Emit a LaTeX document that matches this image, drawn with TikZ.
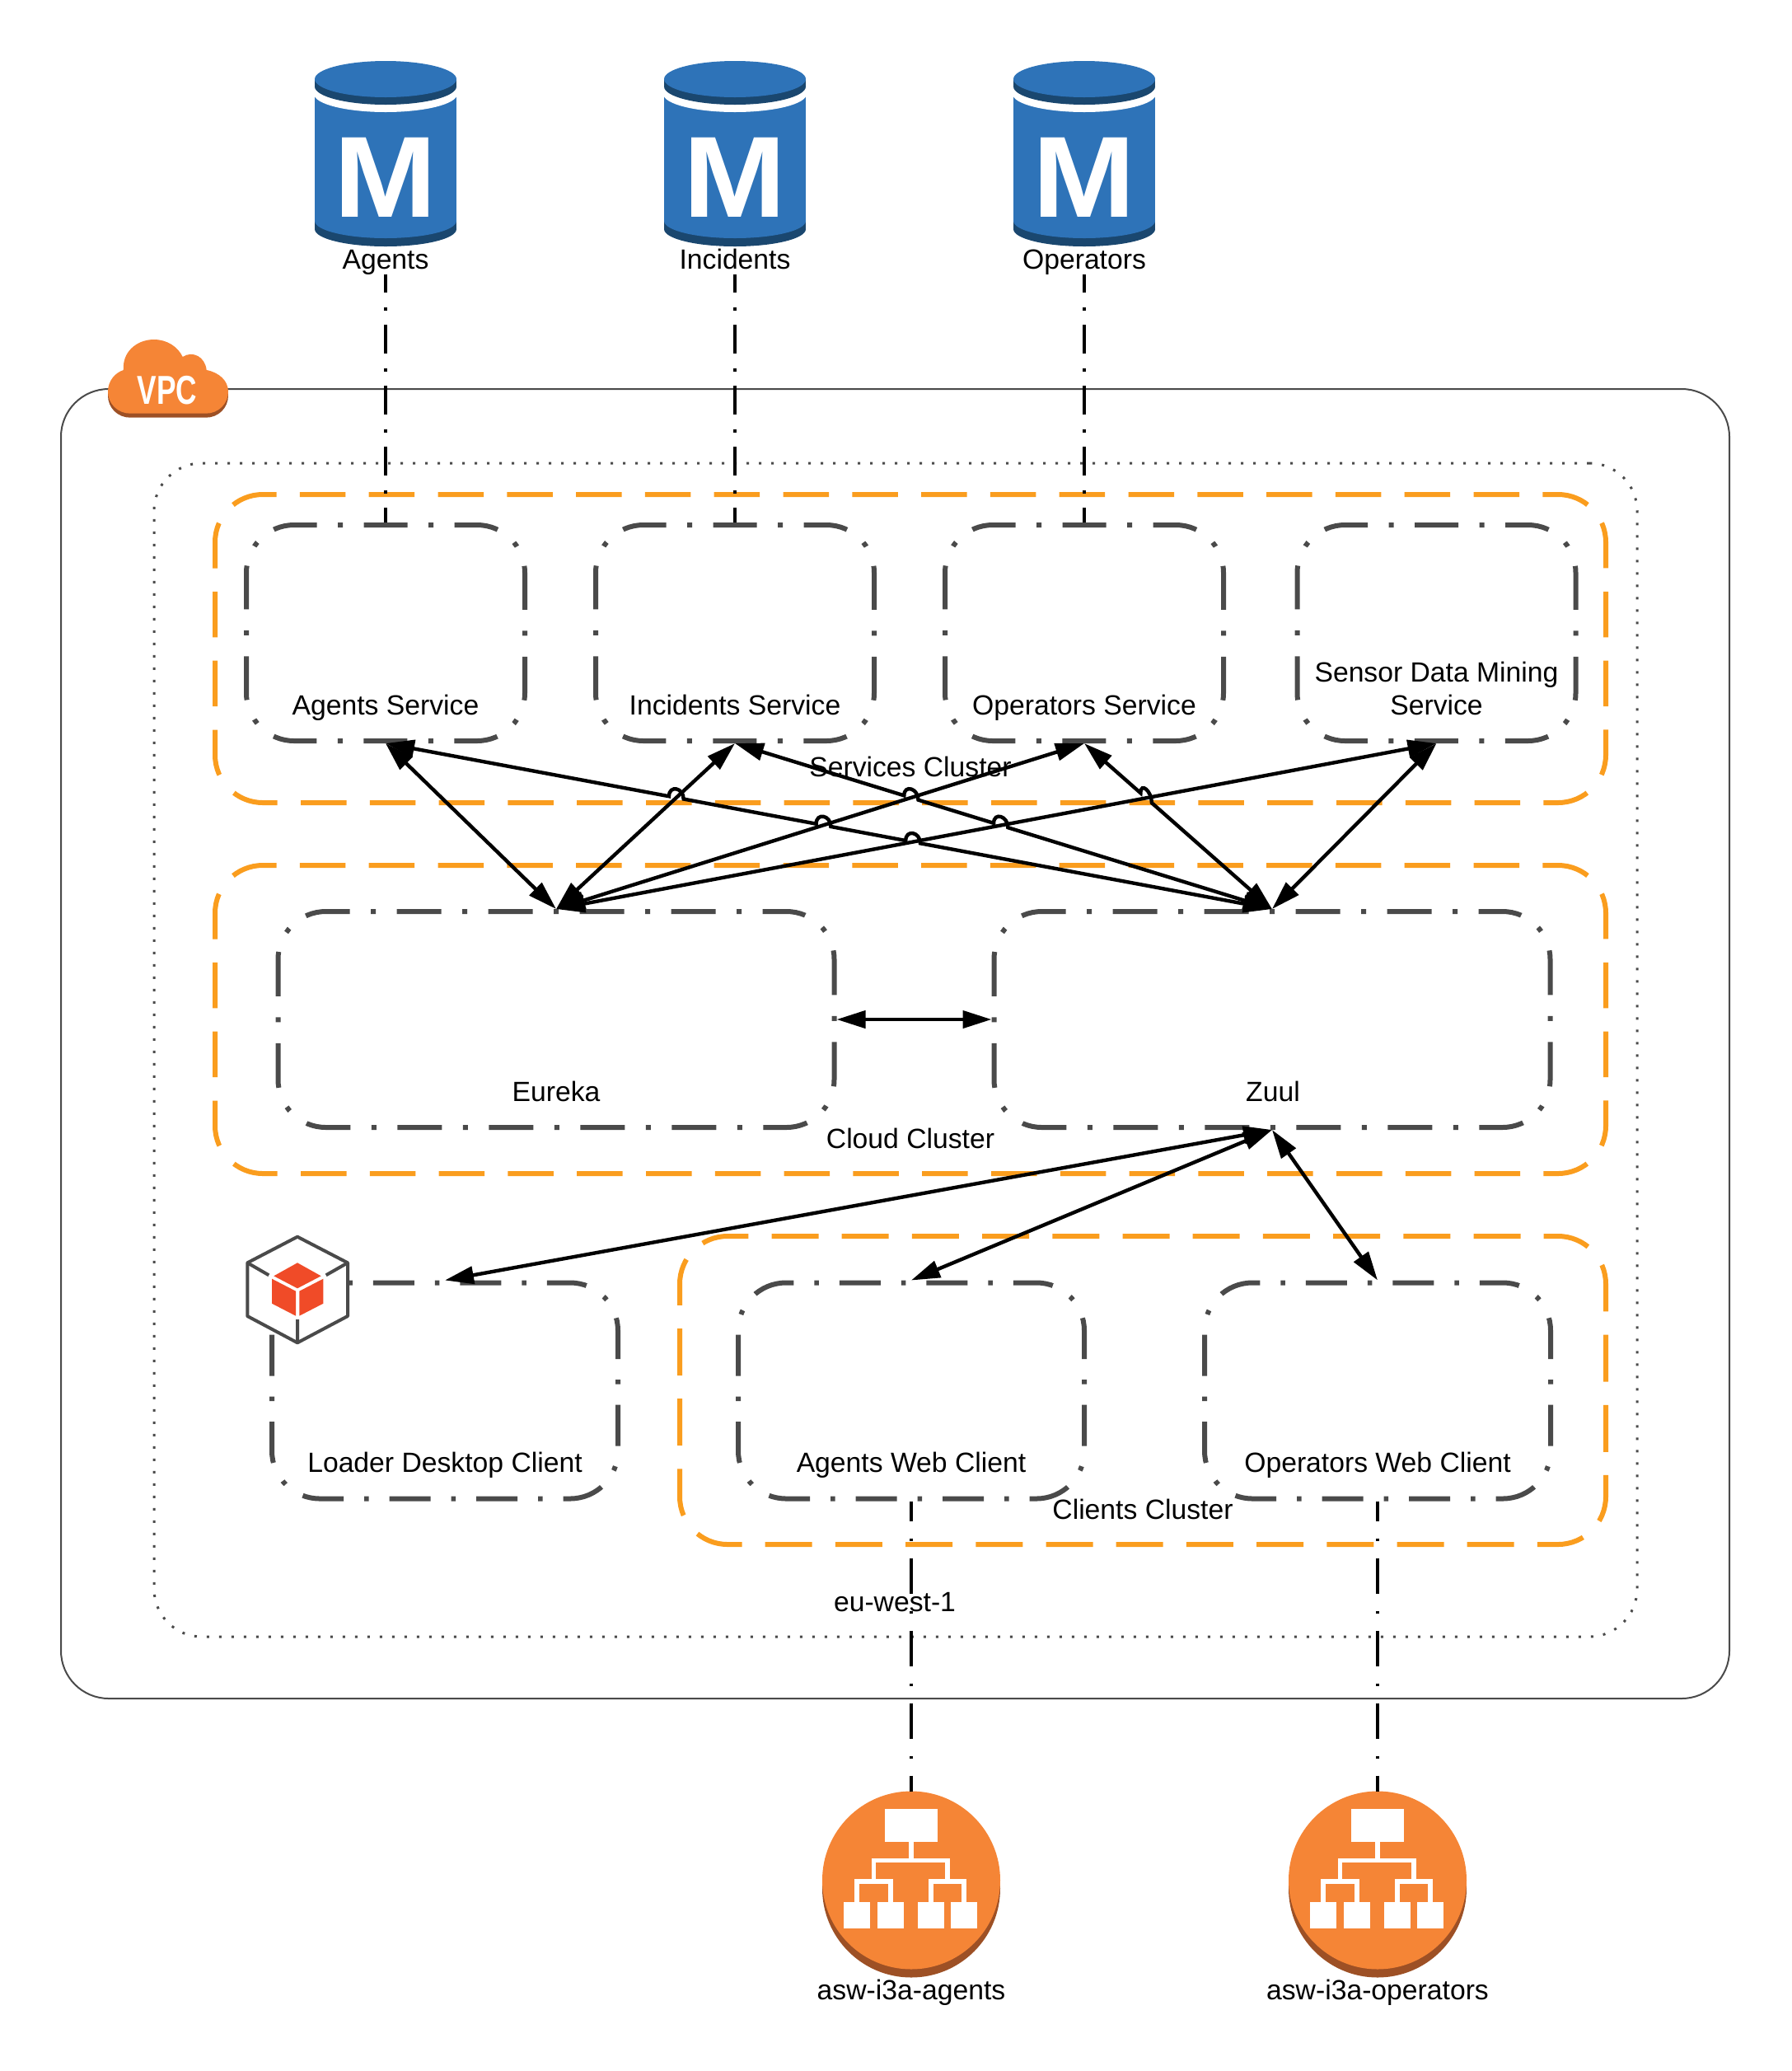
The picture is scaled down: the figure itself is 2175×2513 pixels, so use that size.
\documentclass[tikz,border=0pt]{standalone}
\usepackage{fontspec}
\setmainfont{Liberation Sans}
\usetikzlibrary{arrows.meta,calc,positioning}

\definecolor{boxgrey}{HTML}{4A4A4A}
\definecolor{clusterorange}{HTML}{FA9D1E}
\definecolor{dbblue}{HTML}{2E73B8}
\definecolor{dbdark}{HTML}{1A476F}
\definecolor{awsorange}{HTML}{F58536}
\definecolor{awsdark}{HTML}{9D5025}
\definecolor{cubered}{HTML}{F04B28}

\tikzset{
    lbl/.style={font=\fontsize{16.85}{20}\selectfont, inner sep=0pt, anchor=base, align=center},
    vpcbox/.style={draw=boxgrey, line width=1pt, rounded corners=29pt, inner sep=0pt, minimum width=1012.5pt, minimum height=794.5pt},
    regionbox/.style={draw=boxgrey, line width=1.5pt, rounded corners=29pt, inner sep=0pt, dash pattern=on 1.5pt off 6pt, minimum width=900pt, minimum height=712pt},
    clusterbox/.style={draw=clusterorange, line width=3pt, rounded corners=29pt, inner sep=0pt, dash pattern=on 27.75pt off 14.15pt, dash phase=18.4pt, minimum height=187pt, minimum width=844pt},
    clientcluster/.style={clusterbox, dash pattern=on 28.5pt off 14.1pt, dash phase=19.85pt, minimum width=562pt},
    groupbox/.style={draw=boxgrey, line width=3pt, rounded corners=29pt, inner sep=0pt, minimum height=131pt},
    svcbox/.style={groupbox, minimum width=169pt, dash pattern=on 26.5pt off 12.75pt on 3pt off 12.75pt, dash phase=12.75pt},
    midbox/.style={groupbox, minimum width=337.5pt, dash pattern=on 27pt off 12.75pt on 3pt off 12.75pt, dash phase=12.5pt},
    clientbox/.style={groupbox, minimum width=210pt, dash pattern=on 25pt off 12.5pt on 2.75pt off 12.5pt, dash phase=10.9pt},
    dbline/.style={draw=black, line width=2pt, dash pattern=on 17.5pt off 8.75pt on 2pt off 8.75pt, dash phase=6.5pt},
    lbline/.style={draw=black, line width=2pt, dash pattern=on 21.5pt off 10.5pt on 1.5pt off 10.5pt, dash phase=9.5pt},
    link/.style={draw=black, line width=2.2pt, {Triangle[length=17.5pt,width=10.5pt]}-{Triangle[length=17.5pt,width=10.5pt]}},
    dbicon/.pic={
        \fill[dbdark] (0,204) ellipse [x radius=86, y radius=21];
        \fill[dbdark] (-86,190) rectangle (86,204);
        \fill[dbblue] (0,194) ellipse [x radius=86, y radius=21];
        \fill[dbblue] (-86,40) rectangle (86,194);
        \fill[white] (0,40) ellipse [x radius=87, y radius=22];
        \fill[dbdark] (0,31) ellipse [x radius=86, y radius=22];
        \fill[dbdark] (-86,22) rectangle (86,31);
        \fill[dbblue] (0,22) ellipse [x radius=86, y radius=22];
        \node (-letter) at (0,189) [anchor=base, inner sep=0pt, text=white, font=\fontsize{70}{70}\selectfont\bfseries] {\scalebox{1.07}[1]{M}};
    },
    lbicon/.pic={
        \fill[awsdark] (0,10) circle [radius=108];
        \fill[awsorange] (0,0) circle [radius=108];
        \fill[white] (-32,-87) rectangle (32,-47);
        \foreach \sqx in {-82,-41.5,7.5,48} {
            \fill[white] (\sqx,26) rectangle ++(32,32);
        }
        \draw[white, line width=2.8pt] (0,-47) -- (0,-24) (-45.5,1) -- (-45.5,-24) -- (44,-24) -- (44,1);
        \draw[white, line width=3pt] (-66,26) -- (-66,1) -- (-25.5,1) -- (-25.5,26) (23.5,26) -- (23.5,1) -- (64,1) -- (64,26);
    },
    boxicon/.pic={
        \draw[boxgrey, fill=white, line width=2pt, line join=round] (0,-64.3) -- (-60.7,-32.7) -- (-60.7,32) -- (0,64.3) -- (61,32) -- (61,-32.7) -- cycle;
        \draw[boxgrey, line width=2pt] (-60.7,-32.7) -- (-34.7,-17.7) (61,-32.7) -- (34.7,-17.7) (0,64.3) -- (0,36);
        \fill[cubered] (0,-32.7) -- (28.7,-16.7) -- (0,-1.7) -- (-28.7,-16.7) -- cycle;
        \fill[cubered] (-31,-13.3) -- (-2,1.7) -- (-2,31.7) -- (-31,16.7) -- cycle;
        \fill[cubered] (2.3,1.7) -- (31.3,-13.3) -- (31.3,16.7) -- (2.3,31.7) -- cycle;
    }
}

\newcommand{\cloudpath}{(131,475) .. controls (131,462) and (140,452) .. (150,449) .. controls (148,428) and (165,412) .. (187,412) .. controls (203,412) and (216,421) .. (221.7,433) .. controls (234,425) and (249,433) .. (250.7,449) .. controls (266,452) and (277,462) .. (277,475) .. controls (277,490) and (265,501.7) .. (250,501.7) -- (158,501.7) .. controls (143,501.7) and (131,490) .. (131,475) -- cycle}
\newcommand{\hopover}[3]{-- ($(#2)!4.5pt!(#1)$) .. controls ($(#2)!4.5pt!(#1)+(0,-14)$) and ($(#2)!4.5pt!(#3)+(0,-14)$) .. ($(#2)!4.5pt!(#3)$)}

\begin{document}
\begin{tikzpicture}[x=0.5pt, y=-0.5pt]
    \useasboundingbox (0,0) rectangle (2175,2513);

    \node (vpc) at (1086.5,1266.5) [vpcbox] {};
    \node (region) at (1087,1274) [regionbox] {};
    \node (servicescluster) at (1105,787) [clusterbox] {};
    \node (cloudcluster) at (1105,1237) [clusterbox] {};
    \node (clientscluster) at (1387,1687) [clientcluster] {};

    \begin{scope}[yshift=-2.5pt]
        \fill[awsdark] \cloudpath;
    \end{scope}
    \fill[awsorange] \cloudpath;
    \node (vpctag) at (203,490) [anchor=base, inner sep=0pt, text=white, font=\fontsize{24.5}{24.5}\selectfont\bfseries] {\scalebox{0.72}[1]{VPC}};

    \foreach \dbx/\dbid/\dbname in {468/agentsdb/Agents, 892/incidentsdb/Incidents, 1316/operatorsdb/Operators} {
        \pic at (\dbx,74) {dbicon};
        \node (\dbid) at (\dbx,326) [lbl, text depth=3.5pt] {\dbname};
    }

    \node (agentssvc) at (468,768) [svcbox] {};
    \node (incidentssvc) at (892,768) [svcbox] {};
    \node (operatorssvc) at (1316,768) [svcbox] {};
    \node (sensorsvc) at (1743.5,768) [svcbox] {};
    \node (eureka) at (675,1237) [midbox] {};
    \node (zuul) at (1544,1237) [midbox] {};
    \node (loader) at (540,1687.5) [clientbox] {};
    \node (agentsweb) at (1106,1687.5) [clientbox] {};
    \node (operatorsweb) at (1672,1687.5) [clientbox] {};

    \pic at (361,1565) {boxicon};

    \node (agentssvclbl) at (468,867) [lbl] {Agents Service};
    \node (incidentssvclbl) at (892,867) [lbl] {Incidents Service};
    \node (operatorssvclbl) at (1316,867) [lbl] {Operators Service};
    \node (sensorsvclbl) at (1743.5,867) [lbl] {Sensor Data Mining\\Service};
    \node (eurekalbl) at (675,1336) [lbl] {Eureka};
    \node (zuullbl) at (1545,1336) [lbl] {Zuul};
    \node (loaderlbl) at (540,1786) [lbl] {Loader Desktop Client};
    \node (agentsweblbl) at (1106,1786) [lbl] {Agents Web Client};
    \node (operatorsweblbl) at (1672,1786) [lbl] {Operators Web Client};
    \node (serviceslbl) at (1105,942) [lbl] {Services Cluster};
    \node (cloudlbl) at (1105,1393) [lbl] {Cloud Cluster};
    \node (clientslbl) at (1387,1843) [lbl] {Clients Cluster};
    \node (regionlbl) at (1086,1955) [lbl] {eu-west-1};

    \foreach \lbx/\lbid/\lbname in {1106/agentslb/asw-i3a-agents, 1672/operatorslb/asw-i3a-operators} {
        \pic at (\lbx,2281.5) {lbicon};
        \coordinate (\lbid) at (\lbx,2174);
        \node (\lbid lbl) at (\lbx,2426) [lbl] {\lbname};
    }

    \draw[dbline] (agentsdb.south) -- (agentssvc.north);
    \draw[dbline] (incidentsdb.south) -- (incidentssvc.north);
    \draw[dbline] (operatorsdb.south) -- (operatorssvc.north);
    \draw[lbline] (agentsweb.south) -- (agentslb);
    \draw[lbline] (operatorsweb.south) -- (operatorslb);

    \coordinate (hopa) at (intersection cs:first line={(agentssvc.south)--(zuul.north)}, second line={(incidentssvc.south)--(eureka.north)});
    \coordinate (hopb) at (intersection cs:first line={(agentssvc.south)--(zuul.north)}, second line={(operatorssvc.south)--(eureka.north)});
    \coordinate (hopc) at (intersection cs:first line={(agentssvc.south)--(zuul.north)}, second line={(sensorsvc.south)--(eureka.north)});
    \coordinate (hopd) at (intersection cs:first line={(incidentssvc.south)--(zuul.north)}, second line={(operatorssvc.south)--(eureka.north)});
    \coordinate (hope) at (intersection cs:first line={(incidentssvc.south)--(zuul.north)}, second line={(sensorsvc.south)--(eureka.north)});
    \coordinate (hopf) at (intersection cs:first line={(operatorssvc.south)--(zuul.north)}, second line={(sensorsvc.south)--(eureka.north)});

    \draw[link] (agentssvc.south) -- (eureka.north);
    \draw[link] (incidentssvc.south) -- (eureka.north);
    \draw[link] (operatorssvc.south) -- (eureka.north);
    \draw[link] (sensorsvc.south) -- (eureka.north);
    \draw[link] (agentssvc.south) \hopover{agentssvc.south}{hopa}{zuul.north} \hopover{agentssvc.south}{hopb}{zuul.north} \hopover{agentssvc.south}{hopc}{zuul.north} -- (zuul.north);
    \draw[link] (incidentssvc.south) \hopover{incidentssvc.south}{hopd}{zuul.north} \hopover{incidentssvc.south}{hope}{zuul.north} -- (zuul.north);
    \draw[link] (operatorssvc.south) \hopover{operatorssvc.south}{hopf}{zuul.north} -- (zuul.north);
    \draw[link] (sensorsvc.south) -- (zuul.north);
    \draw[link] (eureka.east) -- (zuul.west);
    \draw[link] (zuul.south) -- (loader.north);
    \draw[link] (zuul.south) -- (agentsweb.north);
    \draw[link] (zuul.south) -- (operatorsweb.north);
\end{tikzpicture}
\end{document}
